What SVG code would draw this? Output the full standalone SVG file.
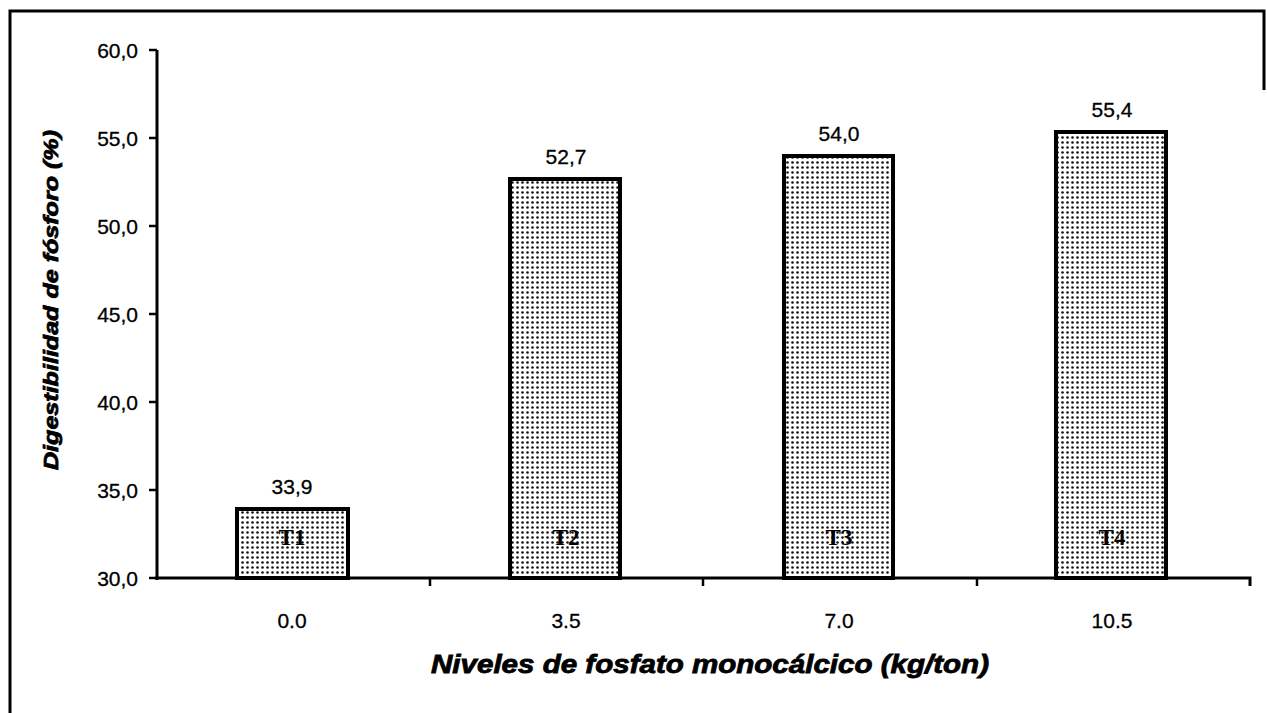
<svg xmlns="http://www.w3.org/2000/svg" width="1267" height="713" viewBox="0 0 1267 713">
<defs>
<pattern id="dots" width="5" height="5" patternUnits="userSpaceOnUse">
<rect width="5" height="5" fill="#fff"/>
<circle cx="2.5" cy="2.5" r="1.3" fill="#111"/>
</pattern>
<style>
.num{font-family:"Liberation Sans",Arial,sans-serif;font-size:21px;fill:#000;stroke:#000;stroke-width:0.3}
.tl{font-family:"Liberation Serif","Times New Roman",serif;font-size:23px;font-weight:bold;fill:#000;text-anchor:middle}
.bar{fill:url(#dots);stroke:#000;stroke-width:4}
.ax{stroke:#000;stroke-width:3;fill:none}
.title{font-family:"Liberation Sans",Arial,sans-serif;font-weight:bold;font-style:italic;fill:#000;stroke:#000;stroke-width:0.8}
</style>
</defs>
<rect width="1267" height="713" fill="#fff"/>
<g id="frame">
<path d="M10,713 L10,11 L1264,11 L1264,90" stroke="#000" stroke-width="3" fill="none"/>
</g>
<g id="axes">
<path class="ax" d="M157,50 L157,580"/>
<path class="ax" d="M155,578 L1250,578 L1250,586"/>
<g stroke="#000" stroke-width="2.5">
<line x1="149" y1="50" x2="157" y2="50"/>
<line x1="149" y1="138" x2="157" y2="138"/>
<line x1="149" y1="226" x2="157" y2="226"/>
<line x1="149" y1="314" x2="157" y2="314"/>
<line x1="149" y1="402" x2="157" y2="402"/>
<line x1="149" y1="490" x2="157" y2="490"/>
<line x1="149" y1="578" x2="157" y2="578"/>
<line x1="430" y1="578" x2="430" y2="586"/>
<line x1="703" y1="578" x2="703" y2="586"/>
<line x1="977" y1="578" x2="977" y2="586"/>
</g>
<g class="num" text-anchor="end">
<text x="138" y="58">60,0</text>
<text x="138" y="146">55,0</text>
<text x="138" y="234">50,0</text>
<text x="138" y="322">45,0</text>
<text x="138" y="410">40,0</text>
<text x="138" y="498">35,0</text>
<text x="138" y="586">30,0</text>
</g>
<g class="num" text-anchor="middle">
<text x="292" y="628">0.0</text>
<text x="566" y="628">3.5</text>
<text x="839" y="628">7.0</text>
<text x="1112" y="628">10.5</text>
</g>
<text class="title" x="710" y="673" font-size="25" text-anchor="middle" textLength="558" lengthAdjust="spacingAndGlyphs">Niveles de fosfato monocálcico (kg/ton)</text>
<text class="title" transform="translate(58,300) rotate(-90)" font-size="21" text-anchor="middle" textLength="340" lengthAdjust="spacingAndGlyphs">Digestibilidad de fósforo (%)</text>
</g>
<g id="bar-T1">
<rect class="bar" x="237" y="509" width="111" height="69"/>
<text class="num" x="292" y="494" text-anchor="middle">33,9</text>
<text class="tl" x="292" y="545">T1</text>
</g>
<g id="bar-T2">
<rect class="bar" x="510" y="179" width="110" height="399"/>
<text class="num" x="566" y="164" text-anchor="middle">52,7</text>
<text class="tl" x="566" y="545">T2</text>
</g>
<g id="bar-T3">
<rect class="bar" x="784" y="156" width="109" height="422"/>
<text class="num" x="839" y="141" text-anchor="middle">54,0</text>
<text class="tl" x="839" y="545">T3</text>
</g>
<g id="bar-T4">
<rect class="bar" x="1056" y="132" width="110" height="446"/>
<text class="num" x="1112" y="117" text-anchor="middle">55,4</text>
<text class="tl" x="1112" y="545">T4</text>
</g>
</svg>
